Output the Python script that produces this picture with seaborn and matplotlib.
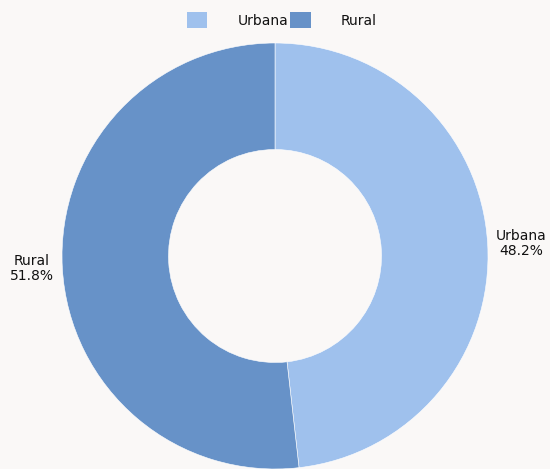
import matplotlib
matplotlib.use("Agg")
import matplotlib.pyplot as plt
import seaborn as sns
from matplotlib.patches import Patch

# dados do gráfico
categorias = ["Urbana", "Rural"]
percentuais = [48.2, 51.8]
cores = ["#9fc1ed", "#6792c8"]

sns.set_style("white")
plt.rcParams["font.family"] = ["DejaVu Sans"]

fig = plt.figure(figsize=(5.5, 4.69), dpi=100, facecolor="#faf8f7")
ax = fig.add_axes([62 / 550, 0, 426 / 550, 426 / 469])
ax.set_facecolor("#faf8f7")

rotulos = [f"{c}\n{p:.1f}%" for c, p in zip(categorias, percentuais)]
wedges, textos = ax.pie(
    percentuais,
    labels=rotulos,
    colors=cores,
    startangle=90,
    counterclock=False,
    radius=1,
    labeldistance=1.04,
    wedgeprops=dict(width=0.5, edgecolor="white", linewidth=0.4),
    textprops=dict(fontsize=10, color="#111111"),
)
for t in textos:
    t.set_linespacing(1.15)
    t.set_multialignment("center")

ax.set_xlim(-1, 1)
ax.set_ylim(-1, 1)
ax.set_aspect("equal")
ax.axis("off")

handles = [Patch(facecolor=c, edgecolor="none") for c in cores]
fig.legend(
    handles, categorias,
    loc="center", bbox_to_anchor=(282 / 550, 1 - 20 / 469),
    ncol=2, frameon=False, fontsize=10,
    handlelength=1.45, handleheight=1.45,
    handletextpad=2.2, columnspacing=0.15,
    labelcolor="#111111",
)

fig.savefig("out.png", dpi=100, facecolor=fig.get_facecolor())
